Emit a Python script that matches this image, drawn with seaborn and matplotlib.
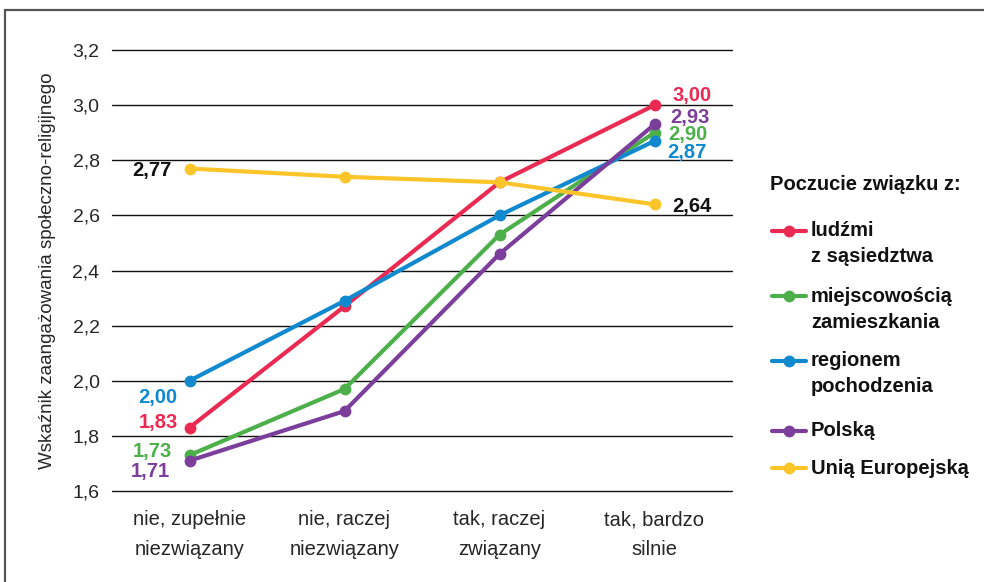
import matplotlib
matplotlib.use("Agg")
import matplotlib.pyplot as plt
import seaborn as sns
import pandas as pd
from matplotlib.lines import Line2D

categories = ["nie, zupełnie\nniezwiązany", "nie, raczej\nniezwiązany",
              "tak, raczej\nzwiązany", "tak, bardzo\nsilnie"]
series_names = ["ludźmi\nz sąsiedztwa", "miejscowością\nzamieszkania",
                "regionem\npochodzenia", "Polską", "Unią Europejską"]
ludzmi = [1.83, 2.27, 2.72, 3.00]
miejscowoscia = [1.73, 1.97, 2.53, 2.90]
regionem = [2.00, 2.29, 2.60, 2.87]
polska = [1.71, 1.89, 2.46, 2.93]
unia = [2.77, 2.74, 2.72, 2.64]
yticks = [1.6, 1.8, 2.0, 2.2, 2.4, 2.6, 2.8, 3.0, 3.2]
ytick_labels = ["1,6", "1,8", "2,0", "2,2", "2,4", "2,6", "2,8", "3,0", "3,2"]
colors = ["#EA2A52", "#4DAF4A", "#1089CF", "#7B3F9B", "#FBC52A"]
legend_title = "Poczucie związku z:"

all_values = [ludzmi, miejscowoscia, regionem, polska, unia]
rows = []
for name, vals in zip(series_names, all_values):
    for i, v in enumerate(vals):
        rows.append({"x": i, "value": v, "series": name})
df = pd.DataFrame(rows)

sns.set_style("white")
plt.rcParams["font.family"] = ["Liberation Sans", "DejaVu Sans"]

W, H = 984, 582
fig = plt.figure(figsize=(W/100, H/100), dpi=100)
ax = fig.add_axes([112/W, 1-491/H, (732-112)/W, (491-50)/H])

for name, col in zip(series_names, colors):
    sub = df[df["series"] == name]
    sns.lineplot(data=sub, x="x", y="value", ax=ax, color=col, linewidth=3.0,
                 marker="o", markersize=8.5, markeredgewidth=0, legend=False)

ax.set_xlim(-0.5, 3.5)
ax.set_ylim(1.6, 3.2)
ax.set_yticks(yticks)
ax.set_yticklabels(ytick_labels, fontsize=14)
ax.set_xticks(range(4))
ax.set_xticklabels(categories, fontsize=14.5, linespacing=1.72)
ax.tick_params(axis="y", length=0, pad=9)
ax.tick_params(axis="x", length=0, pad=14)
ax.set_xlabel("")
ax.set_ylabel("Wskaźnik zaangażowania społeczno-religijnego", fontsize=13.5, labelpad=12)
for s in ax.spines.values():
    s.set_visible(False)
ax.grid(False)
for yv in yticks:
    ax.axhline(yv, color="#111111", linewidth=1.0, zorder=0, clip_on=False)

# value labels
def lab(xi, vals, dx, dy, col, ha):
    v = vals[xi]
    ax.annotate(f"{v:.2f}".replace(".", ","), (xi, v), xytext=(dx, -dy),
                textcoords="offset pixels", ha=ha, va="center", color=col,
                fontsize=14.5, fontweight="bold")

lab(0, unia, -18, 2, "#111111", "right")
lab(0, regionem, -12, 17, colors[2], "right")
lab(0, ludzmi, -12, -5, colors[0], "right")
lab(0, miejscowoscia, -18, -4, colors[1], "right")
lab(0, polska, -20, 11, colors[3], "right")
lab(3, ludzmi, 18, -10, colors[0], "left")
lab(3, polska, 16, -7, colors[3], "left")
lab(3, miejscowoscia, 14, 2, colors[1], "left")
lab(3, regionem, 13, 12, colors[2], "left")
lab(3, unia, 18, 2, "#111111", "left")

# legend (custom layout so handles align with first text line)
fig.text(770/W, 1-184/H, legend_title, fontsize=14.5, fontweight="bold",
         ha="left", va="center", color="#111111")
entry_y = [231, 296, 361, 431, 468]
for name, col, y in zip(series_names, colors, entry_y):
    yf = 1 - y/H
    fig.add_artist(Line2D([772/W, 806/W], [yf, yf], transform=fig.transFigure,
                          color=col, linewidth=3.0, solid_capstyle="round"))
    fig.add_artist(Line2D([789/W], [yf], transform=fig.transFigure, color=col,
                          marker="o", markersize=8.5, markeredgewidth=0))
    for k, line in enumerate(name.split("\n")):
        fig.text(811/W, 1-(y + 26*k)/H, line, fontsize=14.5, fontweight="bold",
                 ha="left", va="center", color="#111111")

# frame
fig.add_artist(Line2D([5/W, 5/W], [0, 1-10/H], transform=fig.transFigure,
                      color="#555555", linewidth=1.6))
fig.add_artist(Line2D([5/W, 1], [1-10/H, 1-10/H], transform=fig.transFigure,
                      color="#555555", linewidth=1.6))

fig.savefig("out.png", dpi=100)
